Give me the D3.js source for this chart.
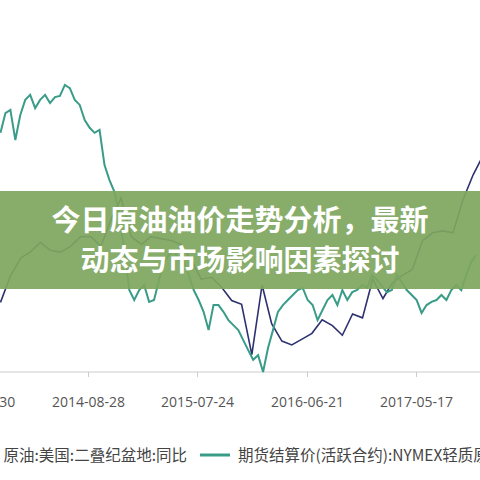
<!DOCTYPE html>
<html>
<head>
<meta charset="utf-8">
<script src="https://d3js.org/d3.v7.min.js"></script>
<style>
  body { margin: 0; background: #fff; }
  text { font-family: "Noto Sans CJK SC", "Noto Sans", sans-serif; }
</style>
</head>
<body>
<div id="chart"></div>
<script>
// WTI settlement price, roughly every 15 days from early Dec 2013
const priceValues = [92.8, 98.3, 99.2, 90.8, 97.8, 102, 103.4, 99.7, 102, 103.4, 101.1, 102.8, 103.1,
  106.2, 105.3, 102, 100.6, 96.4, 94.2, 92.8, 93.6, 83.8, 79.6, 76.3, 69.6, 60.1, 48.9, 46.1, 48.9,
  50.3, 45.6, 46.1, 51.7, 56.7, 58.7, 60.1, 57.3, 56.7, 53.1, 48.9, 46.1, 42.8, 37.7, 44.7, 44.7,
  42.8, 40.5, 39.1, 37.7, 34.9, 32.1, 29.4, 30.7, 26, 32.7, 37.7, 42.8, 44.7, 46.1, 47.5, 48.9,
  49.5, 46.1, 44.7, 40.5, 43.3, 46.1, 47.5, 44.7, 48.9, 46.1, 48.3, 48.9, 50.3, 49.5, 53.1, 51.7,
  50, 48.3, 48.9, 53.1, 51.1, 48.9, 47.5, 46.1, 42.5, 44.7, 45.6, 46.1, 47.5, 46.1, 48.9, 50.3,
  48.9, 53.1, 56.7, 58.7];
// Permian output y/y (%), monthly from Dec 2013
const yoyValues = [-14, 0, 9, 12, 17, 13, 12, 15, 20, 20, 15, 29, 40, 20, 16, 20, 19, 18, 16, 8,
  -2, -1, -6, -13, -15, -41, -5, -25, -34, -36, -33, -30, -23, -26, -31, -20, -22, -2, -12, -4,
  0, 3, 18, 22, 23, 22, 39, 52, 62, 70];
const tickLabels = ["2013-09-30", "2014-08-28", "2015-07-24", "2016-06-21", "2017-05-17"];
const legendLabels = ["原油:美国:二叠纪盆地:同比", "期货结算价(活跃合约):NYMEX轻质原油"];
const titleLines = ["今日原油油价走势分析，最新", "动态与市场影响因素探讨"];

const width = 480, height = 480;
const parse = d3.timeParse("%Y-%m-%d");
const start = parse("2013-12-06");
const priceData = priceValues.map((v, i) => ({ date: d3.timeDay.offset(start, i * 15), v }));
const yoyData = yoyValues.map((v, i) => ({ date: d3.timeMonth.offset(start, i), v }));

const x = d3.scaleTime()
  .domain([parse("2014-08-28"), parse("2017-05-17")])
  .range([88, 416]);
const yPrice = d3.scaleLinear().domain([26, 107]).range([372, 82]);
const yYoy = d3.scaleLinear().domain([-50, 100]).range([372, 82]);

const svg = d3.select("#chart").append("svg")
  .attr("width", width).attr("height", height);

svg.append("g")
  .attr("transform", "translate(0,372)")
  .call(d3.axisBottom(x).tickValues(tickLabels.map(parse)).tickFormat(d3.timeFormat("%Y-%m-%d")).tickSize(5).tickSizeOuter(0))
  .call(g => g.select(".domain").attr("stroke", "#ccc").attr("d", "M-10,0H490"))
  .call(g => g.selectAll(".tick line").attr("stroke", "#ccc"))
  .call(g => g.selectAll(".tick text").attr("dy", "1.9em").attr("fill", "#555")
    .style("font-size", "14px").style("font-family", "'Open Sans', 'Noto Sans', sans-serif"));

svg.append("path")
  .datum(yoyData)
  .attr("fill", "none").attr("stroke", "#2d3170").attr("stroke-width", 1.6)
  .attr("d", d3.line().x(d => x(d.date)).y(d => yYoy(d.v)));

svg.append("path")
  .datum(priceData)
  .attr("fill", "none").attr("stroke", "#3a9c88").attr("stroke-width", 2)
  .attr("d", d3.line().x(d => x(d.date)).y(d => yPrice(d.v)));

// legend
svg.append("text").attr("x", 187).attr("y", 461).attr("text-anchor", "end")
  .attr("fill", "#444").style("font-size", "15.5px").text(legendLabels[0]);
svg.append("line").attr("x1", 200).attr("x2", 230).attr("y1", 455).attr("y2", 455)
  .attr("stroke", "#3a9c88").attr("stroke-width", 3);
svg.append("text").attr("x", 238).attr("y", 461)
  .attr("fill", "#444").style("font-size", "15.5px").text(legendLabels[1]);

// title banner
svg.append("rect").attr("x", 0).attr("y", 191).attr("width", width).attr("height", 98)
  .attr("fill", "#7ea65e").attr("opacity", 0.92);
svg.selectAll(".title").data(titleLines).join("text")
  .attr("class", "title")
  .attr("x", 240).attr("y", (d, i) => 231 + i * 40)
  .attr("text-anchor", "middle").attr("fill", "#fff")
  .style("font-size", "29px").style("font-weight", "bold")
  .text(d => d);
</script>
</body>
</html>
